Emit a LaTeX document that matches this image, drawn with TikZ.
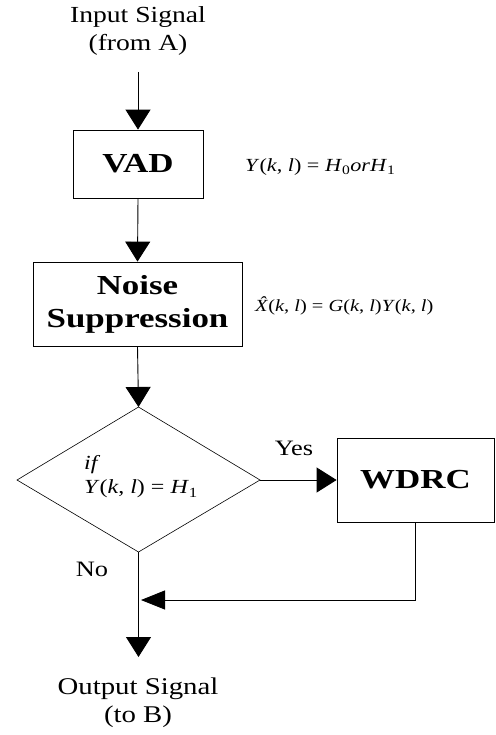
\documentclass[tikz,border=0pt]{standalone}
\usepackage{fontspec}
\setmainfont{Liberation Serif}[FakeStretch=1.2, BoldFeatures={FakeStretch=1.27}]
\usetikzlibrary{arrows.meta}
\begin{document}
\begin{tikzpicture}[x=1pt,y=-1pt,
  box/.style={draw, line width=0.8pt, inner sep=0pt, align=center,
    font=\fontsize{27.5}{33}\selectfont\bfseries},
  lbl/.style={font=\fontsize{23}{28}\selectfont, align=center},
  frm/.style={anchor=west, inner sep=0pt},
  arr/.style={line width=0.9pt, -{Triangle[width=25pt,length=20pt]}},
  arrs/.style={line width=0.9pt, -{Triangle[width=19pt,length=24pt]}},
  ]
\useasboundingbox (0,0) rectangle (495,735);
\node[lbl] (in) at (138,31) {Input Signal\\(from A)};
\coordinate (inS) at (138,72);
\node[box, minimum width=130pt, minimum height=68pt] (vad) at (138,164) {VAD};
\node[frm, font=\fontsize{18.5}{22}\selectfont] (f1) at (245,167)
  {\textit{Y}(\textit{k}, \textit{l}) = \textit{H}\textsubscript{0}\textit{or}\textit{H}\textsubscript{1}};
\node[box, minimum width=209pt, minimum height=84pt] (ns) at (137.5,304) {Noise\\Suppression};
\node[frm, font=\fontsize{17}{20}\selectfont] (f2) at (255,306)
  {\textit{\accent"02C6 X}(\textit{k}, \textit{l}) = \textit{G}(\textit{k}, \textit{l})\textit{Y}(\textit{k}, \textit{l})};
\coordinate (dT) at (138.5,407);
\coordinate (dL) at (17,480);
\coordinate (dR) at (260,480);
\coordinate (dB) at (138.5,552);
\draw[line width=0.6pt] (dT) -- (dR) -- (dB) -- (dL) -- cycle;
\node[frm, align=left, font=\fontsize{20}{24}\selectfont] (cond) at (84,477)
  {\textit{if}\\\textit{Y}(\textit{k}, \textit{l}) = \textit{H}\textsubscript{1}};
\node[box, minimum width=157pt, minimum height=84pt] (wdrc) at (415.5,480) {WDRC};
\node[font=\fontsize{22}{24}\selectfont] (yes) at (294,448) {Yes};
\node[font=\fontsize{22}{24}\selectfont] (no) at (92,569) {No};
\coordinate (m) at (141,600);
\coordinate (outE) at (138.5,657);
\node[lbl, font=\fontsize{24}{28}\selectfont] (out) at (138,703) {Output Signal\\(to B)};
\draw[arr] (inS) -- (vad.north);
\draw[arr] (vad.south) -- (ns.north);
\draw[arr] (ns.south) -- (dT);
\draw[arr] (dR) -- (wdrc.west);
\draw[arrs] (wdrc.south) |- (m);
\draw[arr] (dB) -- (outE);
\end{tikzpicture}
\end{document}
